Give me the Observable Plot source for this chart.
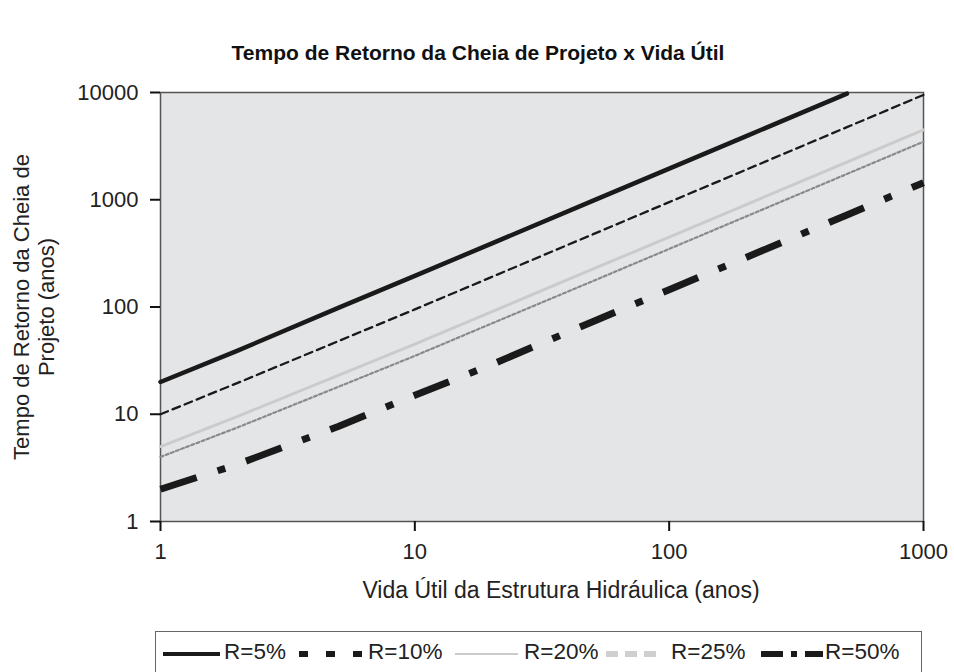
<!DOCTYPE html>
<html>
<head>
<meta charset="utf-8">
<script src="https://cdn.jsdelivr.net/npm/d3@7"></script>
<script src="https://cdn.jsdelivr.net/npm/@observablehq/plot@0.6"></script>
<style>
  html, body { margin: 0; padding: 0; background: #fff; overflow: hidden; }
  #wrap { position: relative; width: 954px; height: 672px; font-family: "Liberation Sans", Arial, sans-serif; }
  #chart { position: absolute; left: 0; top: 0; }
  #legend { position: absolute; left: 155px; top: 631px; width: 767px; height: 60px; border: 1.5px solid #666; box-sizing: border-box; }
  .sw { position: absolute; top: 12px; }
  .lt { position: absolute; top: 8px; font-size: 22.5px; color: #222; line-height: 24px; }
</style>
</head>
<body>
<div id="wrap">
  <div id="chart"></div>
  <div id="legend"></div>
</div>
<script>
// Vida útil (anos)
const vidaUtil = [1, 2, 5, 10, 20, 50, 100, 200, 500, 1000];
// Tempo de retorno (anos) for each risk
const r5  = [20, 39, 98, 195, 390, 975, 1950, 3900, 9750, null];
const r10 = [10, 19.5, 48, 95, 190, 475, 950, 1900, 4750, 9500];
const r20 = [5, 9.5, 23, 45, 90, 225, 449, 897, 2241, 4482];
const r25 = [4, 7.5, 18, 35, 70, 174, 348, 696, 1739, 3477];
const r50 = [2, 3.4, 7.7, 15, 29, 73, 145, 289, 722, 1443];
const seriesNames = ["R=5%", "R=10%", "R=20%", "R=25%", "R=50%"];
const xTicks = [1, 10, 100, 1000];
const yTicks = [1, 10, 100, 1000, 10000];

const seriesValues = [r5, r10, r20, r25, r50];
const styles = {
  "R=5%":  {stroke: "#1a1a1a", strokeWidth: 4.5},
  "R=10%": {stroke: "#1a1a1a", strokeWidth: 2.3, strokeDasharray: "8,5"},
  "R=20%": {stroke: "#cbcbcb", strokeWidth: 3},
  "R=25%": {stroke: "#8a8a8a", strokeWidth: 2.2, strokeDasharray: "3,2.5"},
  "R=50%": {stroke: "#1a1a1a", strokeWidth: 7, strokeDasharray: "38,22,8,22", strokeLinecap: "butt"}
};
const rows = s => vidaUtil.map((n, i) => ({n, t: seriesValues[s][i]})).filter(d => d.t != null);

const font = "'Liberation Sans', Arial, sans-serif";
const chart = Plot.plot({
  width: 954,
  height: 620,
  marginLeft: 160,
  marginRight: 31,
  marginTop: 92,
  marginBottom: 99,
  style: {fontFamily: font, fontSize: "22px", color: "#222", background: "transparent"},
  x: {type: "log", domain: [1, 1000], label: null},
  y: {type: "log", domain: [1, 10000], label: null},
  marks: [
    Plot.frame({fill: "#e4e5e7", stroke: "#555", strokeWidth: 1.5}),
    ...seriesNames.map((name, s) => Plot.line(rows(s), {x: "n", y: "t", ...styles[name]})),
    Plot.axisX({ticks: xTicks, tickFormat: d => String(d), tickSize: 10, tickPadding: 12, stroke: "#111", strokeWidth: 2, fontSize: 22, label: null}),
    Plot.axisY({ticks: yTicks, tickFormat: d => String(d), tickSize: 10, tickPadding: 12, stroke: "#111", strokeWidth: 2, fontSize: 22, label: null}),
    Plot.text(["Tempo de Retorno da Cheia de Projeto x Vida Útil"], {frameAnchor: "top", dx: -64, dy: -47, fontWeight: "bold", fontSize: 21, fill: "#111"}),
    Plot.text(["Vida Útil da Estrutura Hidráulica (anos)"], {frameAnchor: "bottom", dx: 19, dy: 76, fontSize: 23, fill: "#222"}),
    Plot.text(["Tempo de Retorno da Cheia de\nProjeto (anos)"], {frameAnchor: "left", textAnchor: "middle", dx: -127, rotate: -90, fontSize: 22, fill: "#222", lineHeight: 1.15})
  ]
});
document.getElementById("chart").appendChild(chart);

// Legend
const legendItems = [
  {name: "R=5%",  sx: 162, sw: 57, tx: 223, svg: '<line x1="0" y1="4" x2="57" y2="4" stroke="#1a1a1a" stroke-width="4"/>'},
  {name: "R=10%", sx: 298, sw: 64, tx: 367, svg: '<line x1="0" y1="4" x2="64" y2="4" stroke="#1a1a1a" stroke-width="6" stroke-dasharray="9,18"/>'},
  {name: "R=20%", sx: 454, sw: 63, tx: 523, svg: '<line x1="0" y1="4" x2="63" y2="4" stroke="#cbcbcb" stroke-width="2"/>'},
  {name: "R=25%", sx: 605, sw: 57, tx: 670, svg: '<line x1="0" y1="4" x2="57" y2="4" stroke="#cfcfcf" stroke-width="6" stroke-dasharray="12,7"/>'},
  {name: "R=50%", sx: 760, sw: 62, tx: 824, svg: '<line x1="0" y1="4" x2="62" y2="4" stroke="#1a1a1a" stroke-width="6" stroke-dasharray="22,8,6,8,22"/>'}
];
const leg = document.getElementById("legend");
legendItems.forEach(it => {
  const s = document.createElement("div");
  s.className = "sw";
  s.style.left = (it.sx - 155) + "px";
  s.innerHTML = `<svg width="${it.sw}" height="8">${it.svg}</svg>`;
  leg.appendChild(s);
  const t = document.createElement("div");
  t.className = "lt";
  t.style.left = (it.tx - 155) + "px";
  t.textContent = it.name;
  leg.appendChild(t);
});
</script>
</body>
</html>
